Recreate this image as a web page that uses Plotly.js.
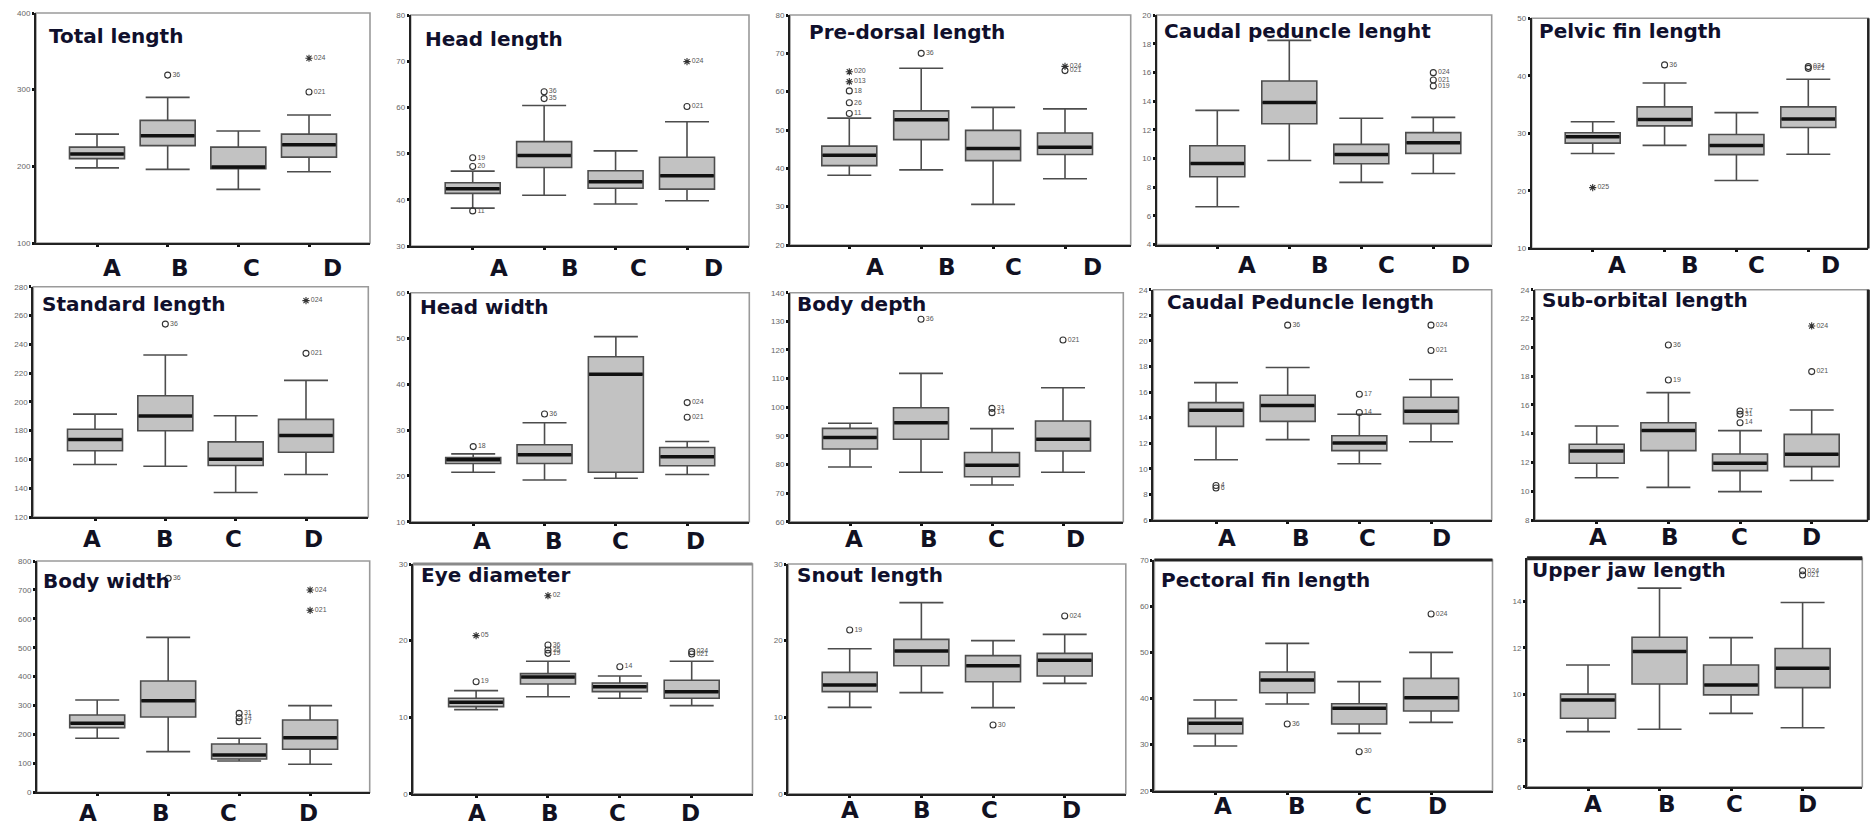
<!DOCTYPE html>
<html><head><meta charset="utf-8">
<script src="https://cdn.plot.ly/plotly-3.0.1.min.js"></script>
<style>html,body{margin:0;padding:0;background:#fff;}#chart{width:1870px;height:825px;}</style>
</head><body><div id="chart"></div>
<script>
const GROUPS = ['A', 'B', 'C', 'D'];

// Each row: [lower whisker, Q1, median, Q3, upper whisker] for groups A, B, C, D
const TOTAL_LENGTH      = [[198,210,216,225,242],[196,227,240,260,290],[170,197,199,225,246],[193,212,228,242,267]];
const HEAD_LENGTH       = [[38.2,41.4,42.4,43.7,46.2],[41,47,49.6,52.6,60.4],[39.1,42.5,43.9,46.3,50.6],[39.8,42.3,45.2,49.2,56.9]];
const PREDORSAL_LENGTH  = [[38.2,40.7,43.4,45.8,53.1],[39.6,47.5,52.7,55,66.1],[30.6,42,45.2,49.9,55.9],[37.3,43.6,45.5,49.2,55.5]];
const CAUDAL_PED_LENGHT = [[6.63,8.72,9.65,10.88,13.35],[9.86,12.42,13.9,15.4,18.23],[8.33,9.63,10.28,10.98,12.8],[8.95,10.35,11.1,11.8,12.86]];
const PELVIC_FIN        = [[26.5,28.3,29.4,30.1,32.0],[27.9,31.3,32.4,34.6,38.75],[21.8,26.3,27.9,29.8,33.6],[26.35,31,32.5,34.6,39.4]];
const STANDARD_LENGTH   = [[156.5,166,173.9,181,191.5],[155.3,179.9,190.1,204.2,232.5],[137,155.8,160.2,172.2,190.3],[149.5,165,176.6,187.8,214.9]];
const HEAD_WIDTH        = [[20.8,22.7,23.5,24,24.8],[19.1,22.7,24.6,26.8,31.6],[19.5,20.8,42.2,46,50.4],[20.3,22.2,24.2,26.2,27.5]];
const BODY_DEPTH        = [[79.1,85.4,89.4,92.6,94.4],[77.3,88.8,94.6,99.8,111.8],[72.8,75.7,79.7,84.2,92.5],[77.3,84.7,88.8,95.2,106.8]];
const CAUDAL_PED_LENGTH = [[10.71,13.32,14.57,15.17,16.74],[12.28,13.71,14.94,15.75,17.92],[10.4,11.42,12.02,12.59,14.26],[12.12,13.53,14.5,15.59,16.98]];
const SUBORBITAL_LENGTH = [[10.94,11.94,12.8,13.26,14.53],[10.27,12.82,14.21,14.76,16.85],[9.97,11.43,11.94,12.59,14.21],[10.74,11.71,12.56,13.95,15.64]];
const BODY_WIDTH        = [[186.7,223.6,238.6,267.4,319.3],[140.6,260.5,317,385,536],[108.4,115.3,129.1,167.1,186.7],[96.8,148.7,189,250.1,299.7]];
const EYE_DIAMETER      = [[10.98,11.37,11.93,12.46,13.46],[12.67,14.33,15.24,15.68,17.29],[12.46,13.33,13.98,14.46,15.37],[11.5,12.46,13.33,14.81,17.29]];
const SNOUT_LENGTH      = [[11.28,13.33,14.2,15.85,18.94],[13.2,16.72,18.64,20.16,24.95],[11.24,14.63,16.72,18.03,19.99],[14.41,15.37,17.42,18.33,20.81]];
const PECTORAL_FIN      = [[29.7,32.36,34.6,35.68,39.65],[38.79,41.24,44,45.72,51.94],[32.43,34.45,37.85,38.86,43.63],[34.81,37.27,40.16,44.35,49.99]];
const UPPER_JAW         = [[8.38,8.96,9.75,10,11.26],[8.48,10.44,11.84,12.46,14.58],[9.17,9.97,10.4,11.26,12.44],[8.55,10.28,11.12,11.97,13.96]];

// Outliers: [group, value, kind ('o' circle / '*' extreme), case label]
const TOTAL_LENGTH_OUT      = [['B',319,'o','36'],['D',341,'*','024'],['D',297,'o','021']];
const HEAD_LENGTH_OUT       = [['A',49.1,'o','19'],['A',47.2,'o','20'],['A',37.6,'o','11'],['B',63.4,'o','36'],['B',61.9,'o','35'],['D',69.9,'*','024'],['D',60.2,'o','021']];
const PREDORSAL_LENGTH_OUT  = [['A',65.2,'*','020'],['A',62.6,'*','013'],['A',60.2,'o','18'],['A',57.1,'o','26'],['A',54.3,'o','11'],['B',70,'o','36'],['D',66.6,'*','024'],['D',65.5,'o','021']];
const CAUDAL_PED_LENGHT_OUT = [['D',15.98,'o','024'],['D',15.47,'o','021'],['D',15.05,'o','019']];
const PELVIC_FIN_OUT        = [['A',20.55,'*','025'],['B',41.9,'o','36'],['D',41.6,'o','024'],['D',41.3,'o','021']];
const STANDARD_LENGTH_OUT   = [['B',254,'o','36'],['D',270.3,'*','024'],['D',233.7,'o','021']];
const HEAD_WIDTH_OUT        = [['A',26.4,'o','18'],['B',33.5,'o','36'],['D',36,'o','024'],['D',32.8,'o','021']];
const BODY_DEPTH_OUT        = [['B',130.7,'o','36'],['C',99.6,'o','31'],['C',98.1,'o','14'],['D',123.5,'o','021']];
const CAUDAL_PED_LENGTH_OUT = [['A',8.7,'o','4'],['A',8.5,'o','6'],['B',21.23,'o','36'],['C',15.83,'o','17'],['C',14.4,'o','14'],['D',21.23,'o','024'],['D',19.25,'o','021']];
const SUBORBITAL_OUT        = [['B',20.16,'o','36'],['B',17.73,'o','19'],['C',15.57,'o','17'],['C',15.34,'o','31'],['C',14.76,'o','14'],['D',21.48,'*','024'],['D',18.31,'o','021']];
const BODY_WIDTH_OUT        = [['B',740,'o','36'],['C',273,'o','31'],['C',258,'o','14'],['C',244,'o','17'],['D',699.7,'*','024'],['D',629.4,'*','021']];
const EYE_DIAMETER_OUT      = [['A',20.64,'*','05'],['A',14.63,'o','19'],['B',25.86,'*','02'],['B',19.42,'o','36'],['B',18.77,'o','35'],['B',18.33,'o','19'],['C',16.59,'o','14'],['D',18.55,'o','024'],['D',18.25,'o','021']];
const SNOUT_LENGTH_OUT      = [['A',21.38,'o','19'],['C',8.97,'o','30'],['D',23.21,'o','024']];
const PECTORAL_FIN_OUT      = [['B',34.45,'o','36'],['C',28.45,'o','30'],['D',58.29,'o','024']];
const UPPER_JAW_OUT         = [['D',15.33,'o','024'],['D',15.15,'o','021']];

const PANEL_TITLES = ['Total length','Head length','Pre-dorsal length','Caudal peduncle lenght','Pelvic fin length',
  'Standard length','Head width','Body depth','Caudal Peduncle length','Sub-orbital length',
  'Body width','Eye diameter','Snout length','Pectoral fin length','Upper jaw length'];
const PANEL_STATS = [TOTAL_LENGTH,HEAD_LENGTH,PREDORSAL_LENGTH,CAUDAL_PED_LENGHT,PELVIC_FIN,
  STANDARD_LENGTH,HEAD_WIDTH,BODY_DEPTH,CAUDAL_PED_LENGTH,SUBORBITAL_LENGTH,
  BODY_WIDTH,EYE_DIAMETER,SNOUT_LENGTH,PECTORAL_FIN,UPPER_JAW];
const PANEL_OUTLIERS = [TOTAL_LENGTH_OUT,HEAD_LENGTH_OUT,PREDORSAL_LENGTH_OUT,CAUDAL_PED_LENGHT_OUT,PELVIC_FIN_OUT,
  STANDARD_LENGTH_OUT,HEAD_WIDTH_OUT,BODY_DEPTH_OUT,CAUDAL_PED_LENGTH_OUT,SUBORBITAL_OUT,
  BODY_WIDTH_OUT,EYE_DIAMETER_OUT,SNOUT_LENGTH_OUT,PECTORAL_FIN_OUT,UPPER_JAW_OUT];
// y-axis ranges and tick steps
const Y_RANGES = [[100,400],[30,80],[20,80],[4,20],[10,50],[120,280],[10,60],[60,140],[6,24],[8,24],[0,800],[0,30],[0,30],[20,70],[6,15.87]];
const Y_DTICK  = [100,10,10,2,10,20,10,10,2,2,100,10,10,10,2];

// ---- layout geometry (pixels in the 1870x825 page) ----
const W = 1870, H = 825;
const PANEL_BOX = [ // [left, top, right, bottom] of plot area
  [36,13,370,243],[410.7,15,749,246],[790,15,1130.7,245],[1156.7,15,1491.7,244.5],[1531.7,18.3,1868.3,248.3],
  [33.3,286.7,368.3,517],[410.7,292.7,749.3,521.7],[790,292.7,1123.3,521.7],[1153.3,289.7,1491.7,520],[1535,289.7,1868.3,520],
  [37,561,369.7,792.3],[413.2,564,752.5,793.7],[788.3,564,1125.8,793.7],[1154.4,560,1492.5,790.7],[1527.1,558.3,1862.3,786.7]];
const CAT_PX = [ // pixel x of first and last category
  [97,309],[472.7,687],[849.3,1065],[1217.3,1433.3],[1592.7,1808.3],
  [95,306],[473.2,687.2],[850,1063],[1216,1431],[1596.7,1811.7],
  [97.2,310.1],[476.1,691.7],[849.7,1064.7],[1215.3,1431.1],[1588,1802.6]];
const LETTER_PX = [
  [112,180,251,332],[499,570,638,713],[875,947,1013,1092],[1246.7,1320,1386,1460],[1616.7,1690,1756,1830],
  [91.7,165,233.3,313.3],[481.7,554,620.7,695],[854,929.3,996.7,1075],[1226.7,1301,1367.3,1441.7],[1598.3,1670,1739.3,1811.7],
  [88.3,161,228.4,308.9],[477,550.4,617.2,690.5],[849.7,922,989.9,1071],[1223,1297,1363.2,1437.7],[1592.7,1667.3,1734,1807.4]];
const LETTER_Y = [268,268,267,265,265, 539,541,539,538,537, 813,813,810,806,804];
const TITLE_POS = [[46.7,36],[423,39],[807,32],[1161.7,31],[1536.7,31],
  [40,304],[418,307],[795,304],[1165,302],[1540,300],
  [40.5,581],[419,575],[795,575],[1158.6,580],[1529.5,570]];
// special frame edges: panel index -> [color, width]
const FRAME_TOP = {11: ['#8a8a8a', 3], 13: ['#222222', 3], 14: ['#222222', 4]};
const FRAME_RIGHT = {4: ['#222222', 2.5], 9: ['#222222', 3]};
const BOX_PX = 55;

const traces = [];
const layout = {
  width: W, height: H, margin: {l:0, r:0, t:0, b:0},
  paper_bgcolor: '#ffffff', plot_bgcolor: 'rgba(0,0,0,0)',
  showlegend: false, shapes: [], annotations: [],
  font: {family: 'DejaVu Sans, Verdana, sans-serif'}
};

PANEL_STATS.forEach((stats, k) => {
  const n = k === 0 ? '' : String(k + 1);
  const xa = 'x' + n, ya = 'y' + n;
  const [L, T, R, B] = PANEL_BOX[k];
  const [p0, p3] = CAT_PX[k];
  const s = (p3 - p0) / 3;
  const bw = BOX_PX / s;
  const xs = GROUPS.map((g, i) => i);

  traces.push({
    type: 'box', xaxis: xa, yaxis: ya, x: xs,
    lowerfence: stats.map(r => r[0]), q1: stats.map(r => r[1]), median: stats.map(r => r[2]),
    q3: stats.map(r => r[3]), upperfence: stats.map(r => r[4]),
    width: bw, whiskerwidth: 0.8, boxpoints: false,
    fillcolor: '#c2c2c2', line: {color: '#4d4d4d', width: 1.6}, hoverinfo: 'skip'
  });
  // thick median bars
  const mx = [], my = [];
  stats.forEach((r, i) => { mx.push(i - bw / 2 + 0.01, i + bw / 2 - 0.01, null); my.push(r[2], r[2], null); });
  traces.push({type: 'scatter', mode: 'lines', xaxis: xa, yaxis: ya, x: mx, y: my,
    line: {color: '#111111', width: 3.5}, hoverinfo: 'skip'});

  const outs = PANEL_OUTLIERS[k];
  [['o', 'circle-open', 6], ['*', 'asterisk-open', 6]].forEach(([kind, sym, sz]) => {
    const pts = outs.filter(o => o[2] === kind);
    if (!pts.length) return;
    traces.push({type: 'scatter', mode: 'markers+text', xaxis: xa, yaxis: ya,
      x: pts.map(o => GROUPS.indexOf(o[0])), y: pts.map(o => o[1]), text: pts.map(o => o[3]),
      textposition: 'middle right', textfont: {size: 7, color: '#555', family: 'Arial, Liberation Sans'},
      marker: {symbol: sym, size: sz, color: '#333', line: {color: '#333', width: 1.1}},
      cliponaxis: false, hoverinfo: 'skip'});
  });

  const xaxisKey = 'xaxis' + n, yaxisKey = 'yaxis' + n;
  layout[xaxisKey] = {
    domain: [L / W, R / W], range: [(L - p0) / s, (R - p0) / s], anchor: ya,
    showgrid: false, zeroline: false, showline: true, linecolor: '#222', linewidth: 2,
    tickmode: 'array', tickvals: xs, ticks: 'outside', ticklen: 2, tickwidth: 3, tickcolor: '#111',
    showticklabels: false, fixedrange: true
  };
  layout[yaxisKey] = {
    domain: [1 - B / H, 1 - T / H], range: Y_RANGES[k], anchor: xa,
    tick0: Y_RANGES[k][0], dtick: Y_DTICK[k],
    showgrid: false, zeroline: false, showline: true, linecolor: '#222', linewidth: 2,
    ticks: 'outside', ticklen: 2, tickwidth: 3, tickcolor: '#111',
    tickfont: {size: 8, color: '#666', family: 'Arial, Liberation Sans'}, fixedrange: true
  };
  layout.shapes.push({type: 'rect', xref: xa + ' domain', yref: ya + ' domain', x0: 0, x1: 1, y0: 0, y1: 1,
    line: {color: '#9a9a9a', width: 1.6}, layer: 'below'});
  if (FRAME_TOP[k]) {
    layout.shapes.push({type: 'line', xref: xa + ' domain', yref: ya + ' domain', x0: 0, x1: 1, y0: 1, y1: 1,
      line: {color: FRAME_TOP[k][0], width: FRAME_TOP[k][1]}});
  }
  if (FRAME_RIGHT[k]) {
    layout.shapes.push({type: 'line', xref: xa + ' domain', yref: ya + ' domain', x0: 1, x1: 1, y0: 0, y1: 1,
      line: {color: FRAME_RIGHT[k][0], width: FRAME_RIGHT[k][1]}});
  }

  layout.annotations.push({xref: 'paper', yref: 'paper', x: TITLE_POS[k][0] / W, y: 1 - TITLE_POS[k][1] / H,
    xanchor: 'left', yanchor: 'middle', showarrow: false, text: '<b>' + PANEL_TITLES[k] + '</b>',
    font: {family: 'DejaVu Sans, Verdana, sans-serif', size: 20, color: '#10102c'}});
  GROUPS.forEach((g, i) => {
    layout.annotations.push({xref: 'paper', yref: 'paper', x: LETTER_PX[k][i] / W, y: 1 - LETTER_Y[k] / H,
      xanchor: 'center', yanchor: 'middle', showarrow: false, text: '<b>' + g + '</b>',
      font: {family: 'DejaVu Sans, Verdana, sans-serif', size: 23, color: '#111122'}});
  });
});

Plotly.newPlot('chart', traces, layout, {staticPlot: true, displayModeBar: false});
</script></body></html>
